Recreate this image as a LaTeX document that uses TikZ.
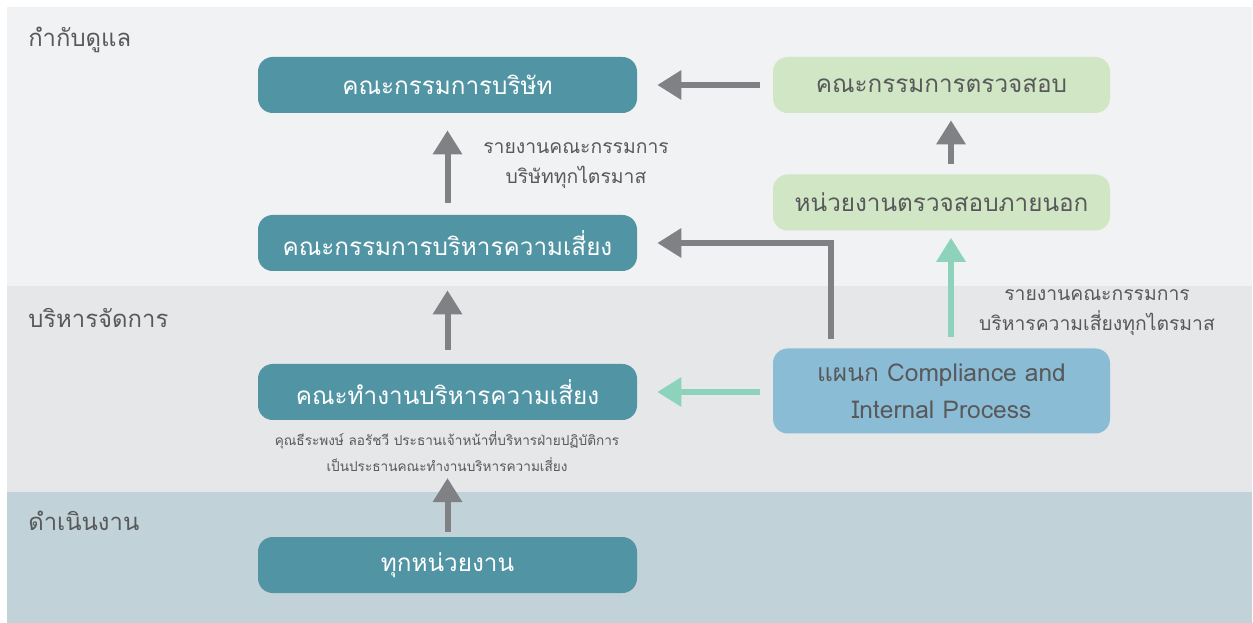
\documentclass[tikz,border=0pt]{standalone}
\usepackage{fontspec}
\setmainfont[Script=Thai]{Loma}
\usetikzlibrary{arrows.meta}
\definecolor{bandA}{HTML}{F1F2F4}
\definecolor{bandB}{HTML}{E6E7E9}
\definecolor{bandC}{HTML}{C1D3D8}
\definecolor{teal}{HTML}{5194A4}
\definecolor{lgreen}{HTML}{D1E6C4}
\definecolor{lblue}{HTML}{8BBCD6}
\definecolor{agray}{HTML}{808184}
\definecolor{agreen}{HTML}{8DD3BC}
\definecolor{txt}{HTML}{58595B}
\tikzset{
  box/.style={rectangle, rounded corners=11pt, minimum width=284.25pt, minimum height=42pt, inner sep=0pt, font=\fontsize{18.2}{21}\selectfont},
  tealbox/.style={box, fill=teal, text=white},
  greenbox/.style={box, fill=lgreen, text=txt, minimum width=252.75pt},
  bluebox/.style={box, fill=lblue, text=txt, minimum width=252.75pt, minimum height=63.75pt, align=center, font=\fontsize{18.4}{27.5}\selectfont},
  bandlabel/.style={anchor=west, text=txt, inner sep=0pt, font=\fontsize{17.9}{20}\selectfont},
  note/.style={text=txt, align=center, inner sep=0pt, font=\fontsize{14.5}{22.5}\selectfont},
  smallnote/.style={text=txt, align=center, inner sep=0pt, font=\fontsize{10.2}{19.5}\selectfont},
  garrow/.style={draw=agray, line width=4.5pt, -{Triangle[length=18pt,width=21pt]}},
  narrow/.style={draw=agreen, line width=4.5pt, -{Triangle[length=18pt,width=21pt]}},
}
\begin{document}
\begin{tikzpicture}[x=0.75pt, y=-0.75pt]
\useasboundingbox (0,0) rectangle (1253,623);
\fill[white] (0,0) rectangle (1253,623);
% bands
\fill[bandA] (7,7) rectangle (1252,286);
\fill[bandB] (7,286) rectangle (1252,492);
\fill[bandC] (7,492) rectangle (1252,623);
\node[bandlabel] (lgov) at (28,40) {กำกับดูแล};
\node[bandlabel] (lman) at (28,318) {บริหารจัดการ};
\node[bandlabel] (lops) at (28,521) {ดำเนินงาน};
% nodes
\node[tealbox] (board) at (447.5,85) {คณะกรรมการบริษัท};
\node[greenbox] (audit) at (941.5,85) {คณะกรรมการตรวจสอบ};
\node[greenbox] (ext) at (941.5,202.5) {หน่วยงานตรวจสอบภายนอก};
\node[tealbox] (rmc) at (447.5,243) {คณะกรรมการบริหารความเสี่ยง};
\node[tealbox] (rmwg) at (447.5,392) {คณะทำงานบริหารความเสี่ยง};
\node[bluebox] (comp) at (941.5,391) {แผนก Compliance and\\Internal Process};
\node[tealbox] (all) at (447.5,565) {ทุกหน่วยงาน};
% notes
\node[note] (n1) at (576,166) {รายงานคณะกรรมการ\\บริษัททุกไตรมาส};
\node[note] (n2) at (1097,313) {รายงานคณะกรรมการ\\บริหารความเสี่ยงทุกไตรมาส};
\node[smallnote] (n3) at (447,452) {คุณธีระพงษ์ ลอรัชวี ประธานเจ้าหน้าที่บริหารฝ่ายปฏิบัติการ\\เป็นประธานคณะทำงานบริหารความเสี่ยง};
\coordinate (n3b) at (447.5,478);
% arrows
\draw[garrow, shorten <=9.75pt, shorten >=15pt] (audit.west) -- (audit.west -| board.east);
\draw[garrow, shorten <=9pt, shorten >=12.75pt] (rmc.north) -- (board.south);
\draw[garrow, shorten <=10.5pt, shorten >=14.25pt] (rmwg.north) -- (rmc.south);
\draw[garrow, shorten <=3.75pt] (all.north) -- (n3b);
\draw[garrow, shorten <=7.5pt, shorten >=5.25pt] ([xshift=7.125pt]ext.north) -- ([xshift=7.125pt]audit.south);
\draw[narrow, shorten <=7.5pt, shorten >=5.25pt] ([xshift=7.125pt,yshift=0.75pt]comp.north) -- ([xshift=7.125pt]ext.south);
\draw[garrow, shorten <=6.75pt, shorten >=15pt] ([xshift=-82.875pt]comp.north) |- (rmc.east);
\draw[narrow, shorten <=9.75pt, shorten >=15pt] (comp.west |- rmwg.east) -- (rmwg.east);
\end{tikzpicture}
\end{document}
